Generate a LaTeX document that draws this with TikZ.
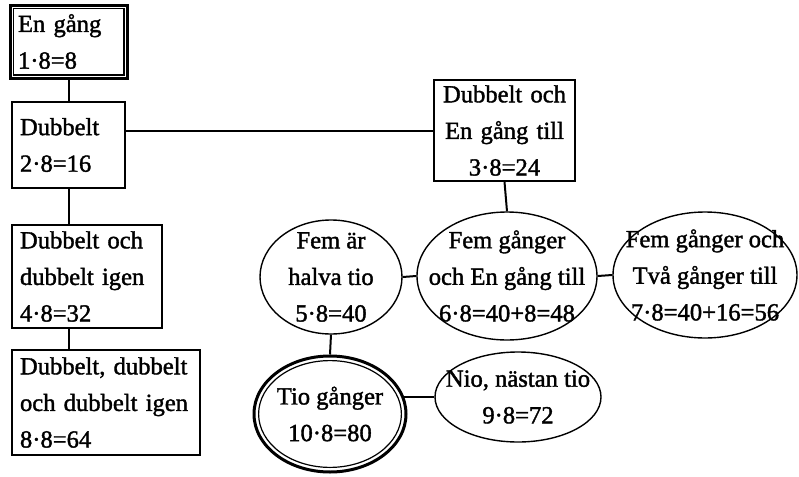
\documentclass[tikz,border=0pt]{standalone}
\usepackage{fontspec}
\setmainfont{Liberation Serif}[FakeBold=1.5]
\usetikzlibrary{shapes.geometric}
\begin{document}
\begin{tikzpicture}[x=0.5pt,y=-0.5pt,
  font=\fontsize{12.3}{18.3}\selectfont,
  box/.style={draw, line width=0.7pt, align=left, inner xsep=4pt, inner ysep=0pt},
  oval/.style={draw, ellipse, line width=0.7pt, align=center, inner xsep=-22pt, inner ysep=-15pt},
  link/.style={line width=1pt}]
\useasboundingbox (0,0) rectangle (799,477);
\node[box, line width=1.5pt, text width=50.5pt, minimum height=36.5pt] (eng) at (68.5,41.5) {En gång\\1·8=8};
\draw[line width=0.6pt] ([shift={(2.3pt,-2.3pt)}]eng.north west) rectangle ([shift={(-2.3pt,2.3pt)}]eng.south east);
\node[box, text width=48.5pt, minimum height=43pt] (dub) at (68.5,145) {Dubbelt\\2·8=16};
\node[box, text width=67pt, minimum height=51.5pt] (dubdub) at (87,276.5) {Dubbelt och\\dubbelt igen\\4·8=32};
\node[box, text width=86pt, minimum height=52.5pt] (dubdubdub) at (106,402.5) {Dubbelt, dubbelt\\och dubbelt igen\\8·8=64};
\node[box, align=center, text width=62.5pt, minimum height=50.5pt] (tre) at (504.5,130.5) {Dubbelt och\\En gång till\\3·8=24};
\node[oval, minimum width=71pt, minimum height=57pt] (femar) at (331,277) {Fem är\\halva tio\\5·8=40};
\node[oval, minimum width=90pt, minimum height=64pt] (femg) at (507,276) {Fem gånger\\och En gång till\\6·8=40+8=48};
\node[oval, minimum width=92pt, minimum height=63pt] (femgo) at (705,275) {Fem gånger och\\Två gånger till\\7·8=40+16=56};
\node[oval, line width=1.5pt, minimum width=76pt, minimum height=58pt] (tio) at (330,414) {Tio gånger\\10·8=80};
\draw[line width=0.6pt] (tio.center) ellipse [x radius=35.7pt, y radius=26.7pt];
\node[oval, minimum width=83pt, minimum height=45pt] (nio) at (518,397) {Nio, nästan tio\\9·8=72};
\draw[link] (eng.south) -- (eng.south |- dub.north);
\draw[link] (dub.south) -- (dub.south |- dubdub.north);
\draw[link] (dub.south |- dubdub.south) -- (dub.south |- dubdubdub.north);
\draw[link] (tre.west -| dub.east) -- (tre.west);
\draw[link] (tre.south) -- (femg.north);
\draw[link] (femar.east) -- (femg.west);
\draw[link] (femg.east) -- (femgo.west);
\draw[link] (femar.south) -- (tio.north);
\draw[link] (tio.13) -- (tio.13 -| nio.west);
\end{tikzpicture}
\end{document}
